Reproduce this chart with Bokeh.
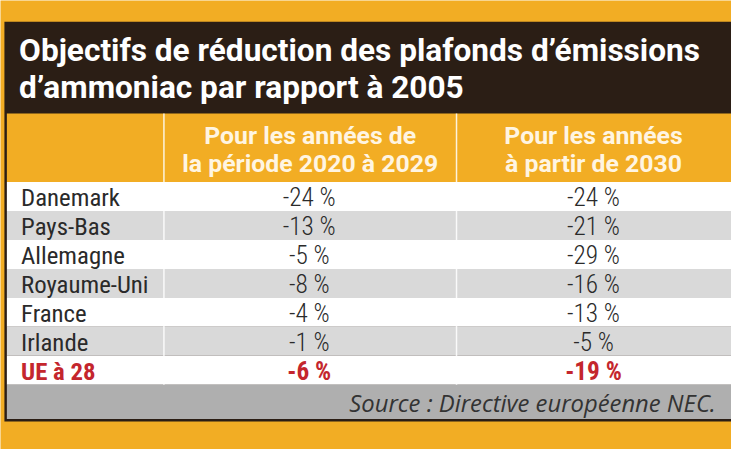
from bokeh.plotting import figure
from bokeh.models import Range1d
from bokeh.embed import file_html
from bokeh.resources import INLINE
from bokeh.core.properties import value

# ---- data ----
title_lines = ["Objectifs de réduction des plafonds d’émissions",
               "d’ammoniac par rapport à 2005"]
col_headers = [["Pour les années de", "la période 2020 à 2029"],
               ["Pour les années", "à partir de 2030"]]
countries = ["Danemark", "Pays-Bas", "Allemagne", "Royaume-Uni", "France", "Irlande", "UE à 28"]
period_2020_2029 = [-24, -13, -5, -8, -4, -1, -6]
from_2030 = [-24, -21, -29, -16, -13, -5, -19]
source = "Source : Directive européenne NEC."

# ---- styles ----
ORANGE = "#F2AD24"
DARK = "#2B1E15"
GRAY = "#D9D9D9"
SRC_GRAY = "#AFAFAF"
TXT = "#2A2A2A"
RED = "#C4262D"
HEAD_TXT = "#FFF5E2"
COND = "Roboto Condensed"
COND_LIGHT = "Roboto Condensed Light, Roboto Condensed"

REF_W, REF_H = 747, 465
W, H = 731, 449
K = (W / REF_W + H / REF_H) / 2


def fs(px):
    return f"{px * K:.1f}px"


p = figure(width=W, height=H, x_range=Range1d(0, REF_W), y_range=Range1d(REF_H, 0),
           output_backend="svg", toolbar_location=None, min_border=0)
p.axis.visible = False
p.xgrid.visible = False
p.ygrid.visible = False
p.outline_line_color = None
p.background_fill_color = ORANGE
p.border_fill_color = ORANGE

L, R = 4, 750
c1, c2 = 167, 466
top_dark, top_head, top_rows = 22, 117, 188
row_h = 30
n = len(countries)
src_top = top_rows + n * row_h
src_bot = 436
inner_l = L + 2.5

# table frame (dark)
p.quad(left=[L], right=[R], top=[top_dark], bottom=[src_bot], fill_color=DARK, line_color=None)
# orange header row
p.quad(left=[inner_l], right=[R], top=[top_head], bottom=[top_rows], fill_color=ORANGE, line_color=None)
# data rows
tops = [top_rows + i * row_h for i in range(n)]
bots = [t + row_h for t in tops]
fills = ["#FFFFFF" if i % 2 == 0 else GRAY for i in range(n)]
p.quad(left=[inner_l] * n, right=[R] * n, top=tops, bottom=bots, fill_color=fills, line_color=None)
# source row
p.quad(left=[inner_l], right=[R], top=[src_top], bottom=[src_bot - 2.5], fill_color=SRC_GRAY, line_color=None)
# column separators
p.segment(x0=[c1, c2], y0=[top_head, top_head], x1=[c1, c2], y1=[src_top, src_top],
          line_color="#FFFFFF", line_width=1.5, alpha=0.85)

# title
p.text(x=[19, 19], y=[52, 90], text=title_lines, text_color="#FFFFFF",
       text_font=value("Roboto"), text_font_style="bold", text_font_size=fs(32.5),
       text_baseline="middle", text_align="left")

# column headers
cx1 = (c1 + c2) / 2
cx2 = (c2 + 746) / 2
for cx, lines in zip([cx1, cx2], col_headers):
    p.text(x=[cx, cx], y=[140, 169], text=lines, text_color=HEAD_TXT,
           text_font=value("Roboto"), text_font_style="bold", text_font_size=fs(25.5),
           text_baseline="middle", text_align="center")

# rows
ys = [t + 16 for t in tops]
colors = [TXT] * (n - 1) + [RED]
styles = ["normal"] * (n - 1) + ["bold"]
vfonts = [COND_LIGHT] * (n - 1) + [COND]
for i in range(n):
    p.text(x=[21], y=[ys[i]], text=[countries[i]], text_color=colors[i],
           text_font=value(COND), text_font_style=styles[i], text_font_size=fs(25.5),
           text_baseline="middle", text_align="left")
    p.text(x=[cx1 - 1], y=[ys[i]], text=[f"-{abs(period_2020_2029[i])} %"], text_color=colors[i],
           text_font=value(vfonts[i]), text_font_style=styles[i], text_font_size=fs(26),
           text_baseline="middle", text_align="center")
    p.text(x=[cx2], y=[ys[i]], text=[f"-{abs(from_2030[i])} %"], text_color=colors[i],
           text_font=value(vfonts[i]), text_font_style=styles[i], text_font_size=fs(26),
           text_baseline="middle", text_align="center")

# source
p.text(x=[731], y=[416.5], text=[source], text_color="#333333",
       text_font=value("Open Sans"), text_font_style="italic", text_font_size=fs(24.5),
       text_baseline="middle", text_align="right")

open("out.html", "w").write(file_html(p, INLINE))
